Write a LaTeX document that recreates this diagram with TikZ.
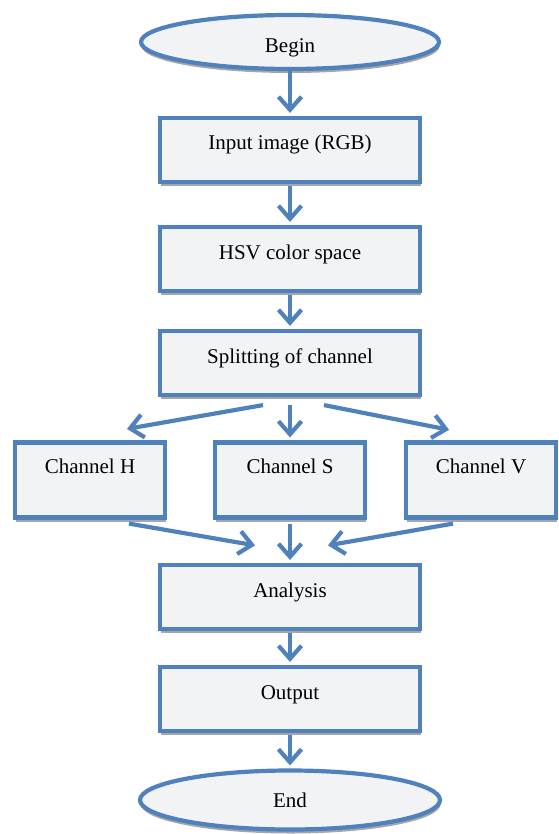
\documentclass[tikz,border=0pt]{standalone}
\usepackage{fontspec}
\setmainfont{Liberation Serif}
\usetikzlibrary{positioning,arrows.meta,shapes.geometric,shadows}
\definecolor{flowblue}{RGB}{79,129,189}
\definecolor{flowfill}{RGB}{242,243,245}
\tikzset{
  flow/.style={node distance=50pt,on grid,font=\fontsize{10.5}{12}\selectfont,
    every node/.style={draw=flowblue,fill=flowfill,line width=2.1pt,inner sep=0pt,
      drop shadow={shadow xshift=0.3pt,shadow yshift=-2pt,fill=gray!70,opacity=1}}},
  terminal/.style={ellipse,minimum width=149pt,minimum height=27pt},
  stepbox/.style={rectangle,minimum width=130pt,minimum height=32pt,
    text height=7pt,text depth=7pt},
  chanbox/.style={rectangle,minimum width=75pt,minimum height=37.5pt,
    text height=7pt,text depth=14pt},
  link/.style={draw=flowblue,line width=2.1pt,-{Straight Barb[length=6.5pt,width=11.5pt]},
    shorten >=1.5pt},
}
\begin{document}
\begin{tikzpicture}[flow]
  \useasboundingbox (0pt,0pt) rectangle (279pt,-417pt);
  \node[terminal,text height=13pt,text depth=2pt] (begin) at (145pt,-21pt) {Begin};
  \node[stepbox] (input) [below=54pt of begin] {Input image (RGB)};
  \node[stepbox] (hsv) [below=54.5pt of input] {HSV color space};
  \node[stepbox] (split) [below=52pt of hsv] {Splitting of channel};
  \node[chanbox] (chS) [below=58.5pt of split] {Channel S};
  \node[chanbox] (chH) [left=100pt of chS] {Channel H};
  \node[chanbox] (chV) [right=95.5pt of chS] {Channel V};
  \node[stepbox] (analysis) [below=58.5pt of chS] {Analysis};
  \node[stepbox] (output) [below=51pt of analysis] {Output};
  \node[terminal,minimum width=150pt,minimum height=29.5pt] (stop) [below=50.5pt of output] {End};
  % arrows
  \draw[link] (begin) -- (input);
  \draw[link,shorten <=1pt] (input) -- (hsv);
  \draw[link,shorten <=1pt] (hsv) -- (split);
  \draw[link] ([xshift=-13.5pt,yshift=-4pt]split.south) -- ([xshift=17pt,yshift=5.5pt]chH.north);
  \draw[link,shorten <=4pt] (split) -- (chS);
  \draw[link] ([xshift=17pt,yshift=-4pt]split.south) -- ([xshift=-14.5pt,yshift=5pt]chV.north);
  \draw[link] ([xshift=19.5pt,yshift=-2pt]chH.south) -- ([xshift=-16pt,yshift=8.5pt]analysis.north);
  \draw[link,shorten <=2pt] (chS) -- (analysis);
  \draw[link] ([xshift=-14pt,yshift=-2pt]chV.south) -- ([xshift=17.5pt,yshift=8.5pt]analysis.north);
  \draw[link,shorten <=1pt] (analysis) -- (output);
  \draw[link,shorten <=1pt] (output) -- (stop);
\end{tikzpicture}
\end{document}
